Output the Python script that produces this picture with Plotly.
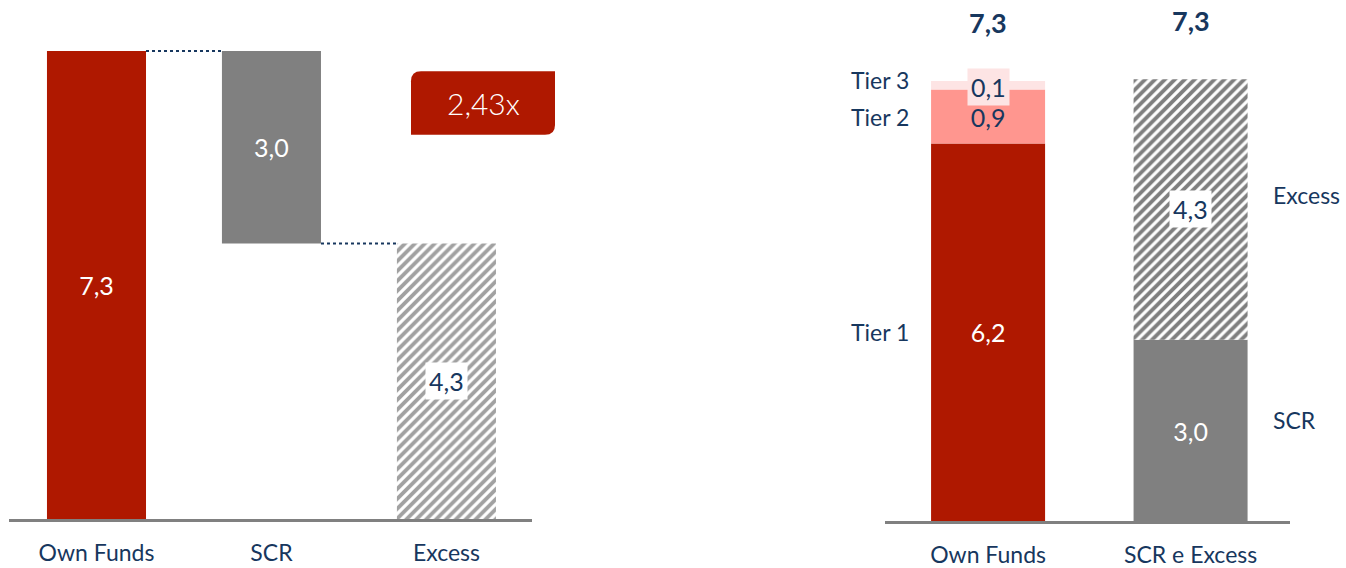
import plotly.graph_objects as go

# left panel: own funds -> SCR -> excess (bn)
wf_labels = ["Own Funds", "SCR", "Excess"]
own_funds = 7.3
scr = 3.0
excess = 4.3

# right panel: composition of own funds and coverage
stack_labels = ["Own Funds", "SCR e Excess"]
tier_names = ["Tier 1", "Tier 2", "Tier 3"]
tier_values = [6.24, 0.89, 0.14]
cover_names = ["SCR", "Excess"]
cover_values = [3.0, 4.3]

RED = "#AF1800"
GREY = "#808080"
SALMON = "#FF968F"
PINK = "#FDE4E4"
NAVY = "#17375E"
FONT = "Lato"

W = 1346
H = 568
BW_L = 0.566
BW_R = 0.563
LBL = 23   # side / category label size
VAL = 25   # value label size


def fmt(v, d=1):
    return f"{v:.{d}f}".replace(".", ",")


hatch = dict(fgcolor="#000000", bgcolor="white", size=7, solidity=0.55)

fig = go.Figure()

# left waterfall, one trace with explicit bases
fig.add_trace(go.Bar(
    x=wf_labels,
    y=[own_funds, scr, excess],
    base=[0, own_funds - scr, 0],
    width=BW_L,
    marker=dict(color=[RED, GREY, "white"], line_width=0,
                pattern=dict(shape=["", "", "/"], **hatch)),
    text=[fmt(own_funds), fmt(scr), ""],
    textposition="inside",
    insidetextanchor="middle",
    textangle=0,
    textfont=dict(color="white", size=VAL, family=FONT),
    hoverinfo="skip",
    xaxis="x", yaxis="y",
))

# right panel, own funds tiers
tier_colors = [RED, SALMON, PINK]
tier_text_colors = ["white", NAVY, NAVY]
cum = 0
tier_bases = []
for name, v, c, tc in zip(tier_names, tier_values, tier_colors, tier_text_colors):
    tier_bases.append(cum)
    fig.add_trace(go.Bar(
        x=[stack_labels[0]], y=[v], base=[cum], width=BW_R, name=name,
        marker=dict(color=c, line_width=0),
        text=[fmt(v)] if name != "Tier 3" else [""],
        textposition="inside", insidetextanchor="middle", textangle=0,
        textfont=dict(color=tc, size=VAL, family=FONT),
        xaxis="x2", yaxis="y2",
    ))
    cum += v
own_total = cum

# right panel, SCR and excess
cum = 0
cover_bases = []
for name, v in zip(cover_names, cover_values):
    cover_bases.append(cum)
    if name == "SCR":
        marker = dict(color=GREY, line_width=0)
        txt = [fmt(v)]
    else:
        marker = dict(color="white", line_width=0, pattern=dict(shape="/", **hatch))
        txt = [""]
    fig.add_trace(go.Bar(
        x=[stack_labels[1]], y=[v], base=[cum], width=BW_R, name=name,
        marker=marker, text=txt,
        textposition="inside", insidetextanchor="middle", textangle=0,
        textfont=dict(color="white", size=VAL, family=FONT),
        xaxis="x2", yaxis="y2",
    ))
    cum += v
cover_total = cum

annotations = []

# boxed excess label on left
annotations.append(dict(
    x="Excess", y=excess / 2, xref="x", yref="y", text=fmt(excess),
    showarrow=False, bgcolor="white", borderpad=3,
    font=dict(color=NAVY, size=VAL, family=FONT),
))

# coverage ratio badge
ratio = own_funds / scr
bx0, bx1 = 411 / W, 555 / W
by0, by1 = 1 - 136 / H, 1 - 72 / H
rx, ry = 10 / W, 10 / H
badge_path = (
    f"M {bx0 + rx},{by1} L {bx1},{by1} L {bx1},{by0 + ry} "
    f"Q {bx1},{by0} {bx1 - rx},{by0} L {bx0},{by0} L {bx0},{by1 - ry} "
    f"Q {bx0},{by1} {bx0 + rx},{by1} Z"
)
annotations.append(dict(
    x=(bx0 + bx1) / 2, y=(by0 + by1) / 2, xref="paper", yref="paper",
    xanchor="center", yanchor="middle",
    text=fmt(ratio, 2) + "x", showarrow=False,
    font=dict(color="white", size=30, family=FONT, weight=300),
))

# totals on right
for lab, tot in zip(stack_labels, [own_total, cover_total]):
    annotations.append(dict(
        x=lab, y=tot, xref="x2", yref="y2", text=f"<b>{fmt(tot)}</b>",
        showarrow=False, yanchor="bottom", yshift=41, borderpad=0,
        font=dict(color=NAVY, size=27, family=FONT),
    ))

# tier side labels
tier_shift = [0, 0, 5]
for name, v, b, ys in zip(tier_names, tier_values, tier_bases, tier_shift):
    annotations.append(dict(
        x=0 - BW_R / 2, y=b + v / 2, xref="x2", yref="y2", text=name,
        showarrow=False, xanchor="right", xshift=-20, yshift=ys,
        font=dict(color=NAVY, size=LBL, family=FONT),
    ))

# tier 3 value in a pink box
annotations.append(dict(
    x=stack_labels[0], y=tier_bases[2] + tier_values[2] / 2, xref="x2", yref="y2",
    text=fmt(tier_values[2]), showarrow=False, bgcolor=PINK, borderpad=3, yshift=-2,
    font=dict(color=NAVY, size=VAL, family=FONT),
))

# coverage side labels and boxed excess value
cover_shift = [11, 14]
for name, v, b, ys in zip(cover_names, cover_values, cover_bases, cover_shift):
    annotations.append(dict(
        x=1 + BW_R / 2, y=b + v / 2, xref="x2", yref="y2", text=name,
        showarrow=False, xanchor="left", xshift=23, yshift=ys,
        font=dict(color=NAVY, size=LBL, family=FONT),
    ))
annotations.append(dict(
    x=stack_labels[1], y=cover_bases[1] + cover_values[1] / 2, xref="x2", yref="y2",
    text=fmt(cover_values[1]), showarrow=False, bgcolor="white", borderpad=3,
    font=dict(color=NAVY, size=VAL, family=FONT),
))

# dotted connectors on the waterfall
conn = dict(color=NAVY, width=2, dash="dot")
shapes = [
    dict(type="line", xref="x", yref="y", x0=0 + BW_L / 2, x1=1 - BW_L / 2,
         y0=own_funds, y1=own_funds, line=conn),
    dict(type="line", xref="x", yref="y", x0=1 + BW_L / 2, x1=2 - BW_L / 2,
         y0=own_funds - scr, y1=own_funds - scr, line=conn),
    dict(type="path", xref="paper", yref="paper", path=badge_path,
         fillcolor=RED, line_width=0, layer="below"),
]

axis_common = dict(
    showgrid=False, zeroline=False, showline=True, linecolor=GREY, linewidth=3,
    ticks="", tickfont=dict(color=NAVY, size=LBL, family=FONT), ticklabelstandoff=11,
    fixedrange=True,
)
yaxis_common = dict(visible=False, showgrid=False, zeroline=False, fixedrange=True)

fig.update_layout(
    width=W, height=H, autosize=False,
    margin=dict(l=0, r=0, t=0, b=0),
    paper_bgcolor="white", plot_bgcolor="white",
    barmode="overlay",
    showlegend=False,
    font=dict(family=FONT, color=NAVY),
    xaxis=dict(domain=[9 / W, 532 / W], range=[-0.5, 2.489], anchor="y", **axis_common),
    yaxis=dict(domain=[1 - 524 / H, 1 - 6 / H], range=[0, 8], anchor="x", **yaxis_common),
    xaxis2=dict(domain=[885 / W, 1290 / W], range=[-0.509, 1.491], anchor="y2", **axis_common),
    yaxis2=dict(domain=[1 - 526 / H, 1 - 3 / H], range=[0, 8.56], anchor="x2", **yaxis_common),
    annotations=annotations,
    shapes=shapes,
)

fig.write_html(
    "out.html",
    config={"displayModeBar": False, "responsive": False},
    post_script="document.body.style.margin='0';document.body.style.overflow='hidden';",
)
